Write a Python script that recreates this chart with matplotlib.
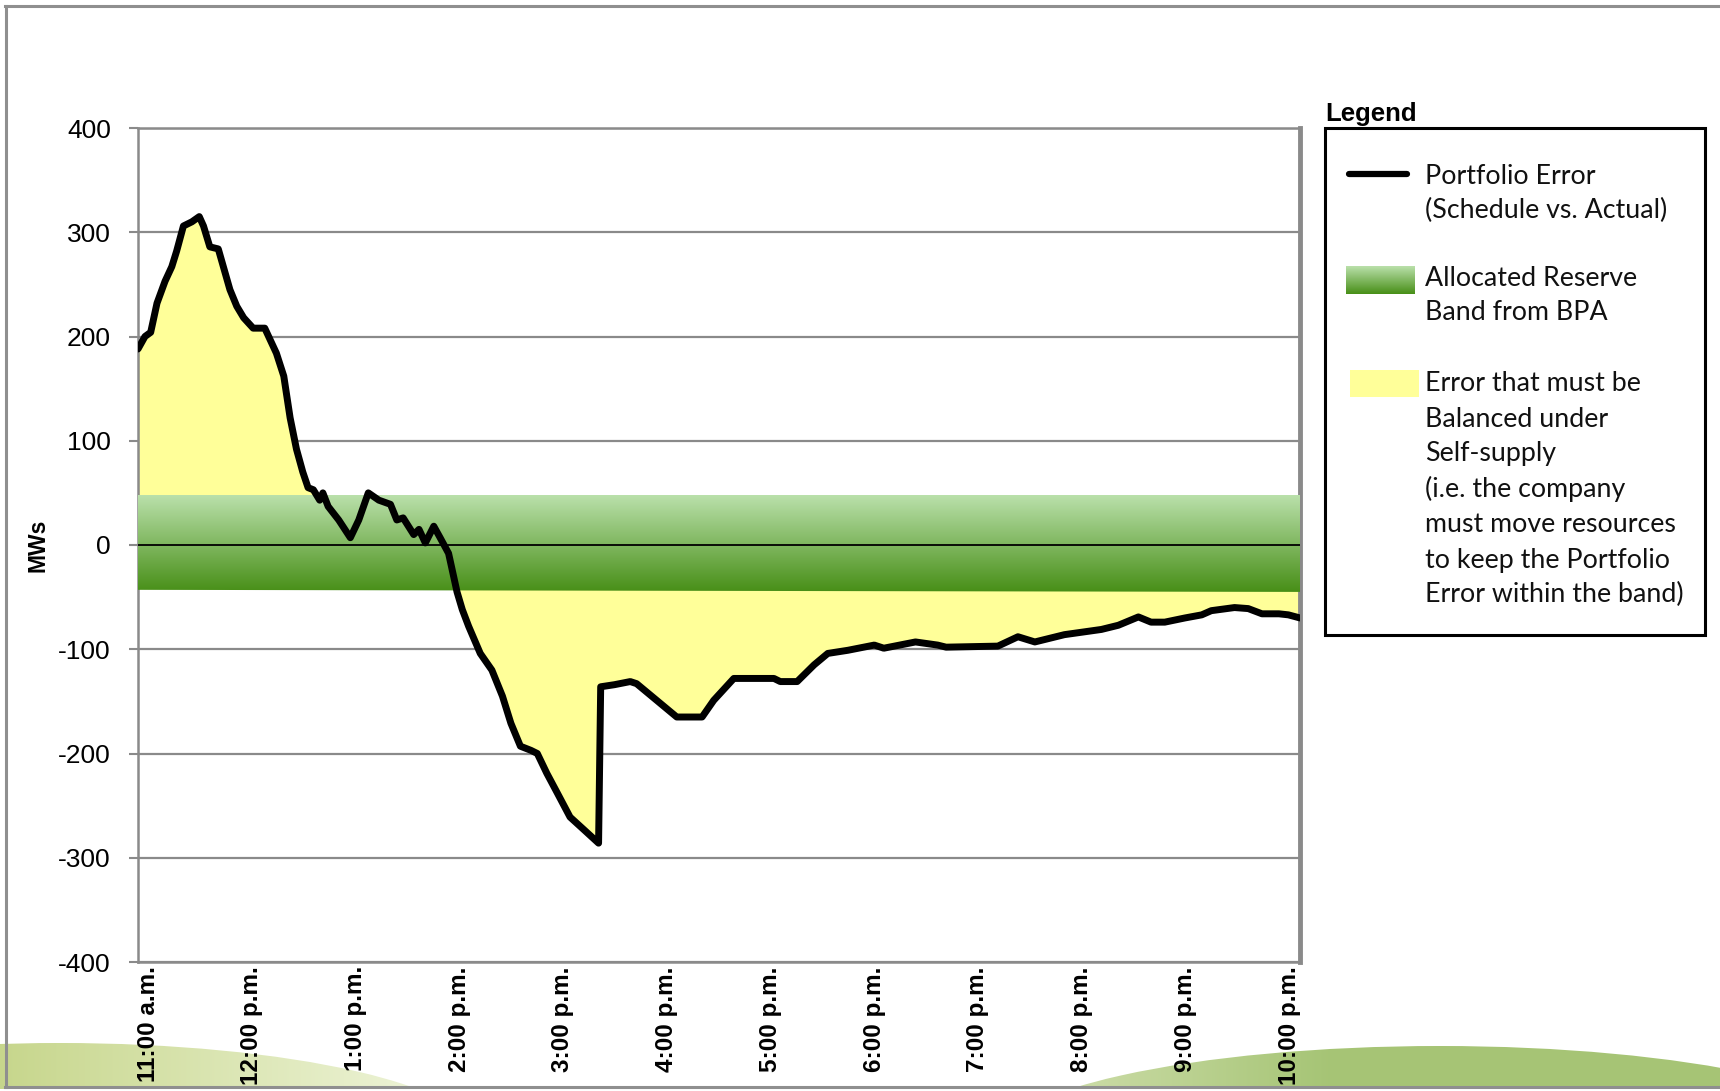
import numpy as np
import matplotlib
matplotlib.use('Agg')
import matplotlib.pyplot as plt
from matplotlib.patches import Rectangle, Ellipse, Polygon
from matplotlib.lines import Line2D

# ---------------- data ----------------
# hours after 11:00 a.m.
hours = [0.00, 0.066, 0.12, 0.18, 0.256, 0.32, 0.366, 0.43, 0.51, 0.58, 0.62, 0.68, 0.76,
         0.87, 0.935, 1.00, 1.09, 1.20, 1.31, 1.38, 1.44, 1.50, 1.56, 1.61, 1.66, 1.72, 1.75,
         1.80, 1.90, 2.01, 2.09, 2.18, 2.28, 2.39, 2.45, 2.51, 2.61, 2.66, 2.72, 2.80, 2.86,
         2.94, 3.02, 3.07, 3.13, 3.24, 3.35, 3.45, 3.53, 3.62, 3.72, 3.78, 3.87, 3.97, 4.09,
         4.22, 4.36, 4.38, 4.51, 4.66, 4.72, 4.91, 5.10, 5.34, 5.45, 5.64, 6.02, 6.08, 6.24,
         6.40, 6.53, 6.72, 6.97, 7.06, 7.16, 7.36, 7.57, 7.65, 8.14, 8.33, 8.49, 8.77, 9.12,
         9.28, 9.47, 9.59, 9.72, 9.91, 10.07, 10.16, 10.38, 10.51, 10.64, 10.80, 10.89, 11.0]
error_mw = [188, 200, 204, 232, 253, 267, 282, 306, 310, 315, 306, 286, 284,
            245, 229, 218, 208, 208, 184, 162, 122, 92, 70, 55, 53, 43, 50,
            37, 24, 7, 24, 50, 43, 39, 24, 26, 10, 15, 2, 18, 7,
            -8, -45, -62, -78, -104, -120, -145, -171, -193, -197, -200, -219, -238, -261,
            -273, -286, -136, -134, -131, -133, -149, -165, -165, -149, -128, -128, -131, -131,
            -115, -104, -101, -96, -99, -97, -93, -96, -98, -97, -88, -93, -86, -81,
            -77, -69, -74, -74, -70, -67, -63, -60, -61, -66, -66, -67, -70]
band_upper = 48
band_lower_start = -43
band_lower_end = -45
y_ticks = [400, 300, 200, 100, 0, -100, -200, -300, -400]
x_tick_labels = ['11:00 a.m.', '12:00 p.m.', '1:00 p.m.', '2:00 p.m.', '3:00 p.m.', '4:00 p.m.',
                 '5:00 p.m.', '6:00 p.m.', '7:00 p.m.', '8:00 p.m.', '9:00 p.m.', '10:00 p.m.']
legend_title = 'Legend'
legend_line_text = ['Portfolio Error', '(Schedule vs. Actual)']
legend_band_text = ['Allocated Reserve', 'Band from BPA']
legend_fill_text = ['Error that must be', 'Balanced under', 'Self-supply',
                    '(i.e. the company', 'must move resources', 'to keep the Portfolio',
                    'Error within the band)']

# ---------------- figure ----------------
W, H = 1720, 1091
fig = plt.figure(figsize=(W / 100, H / 100), dpi=100)
fig.patch.set_facecolor('white')

def fx(px):
    return px / W

def fy(py):
    return 1 - py / H

# background axes in pixel coordinates
bg = fig.add_axes([0, 0, 1, 1], zorder=-10)
bg.set_xlim(0, W)
bg.set_ylim(H, 0)
bg.axis('off')

def hgrad(c0, c1, n=256):
    t = np.linspace(0, 1, n)[None, :, None]
    return (np.array(c0)[None, None, :] * (1 - t) + np.array(c1)[None, None, :] * t)

def vgrad(c0, c1, n=256):
    t = np.linspace(0, 1, n)[:, None, None]
    return (np.array(c0)[None, None, :] * (1 - t) + np.array(c1)[None, None, :] * t)

# decorative hills
e1 = Ellipse((60, 1140), 840, 194, transform=bg.transData, facecolor='none', edgecolor='none')
bg.add_patch(e1)
im1 = bg.imshow(hgrad((0.78, 0.84, 0.55), (0.95, 0.97, 0.88)), extent=[0, 480, 1089, 1030],
                aspect='auto', interpolation='bilinear')
im1.set_clip_path(e1)
e2 = Ellipse((1440, 1146), 900, 200, transform=bg.transData, facecolor='none', edgecolor='none')
bg.add_patch(e2)
im2 = bg.imshow(hgrad((0.84, 0.89, 0.71), (0.65, 0.77, 0.46)), extent=[1000, 1330, 1089, 1030],
                aspect='auto', interpolation='bilinear')
im2.set_clip_path(e2)
r2 = Rectangle((1330, 1030), 390, 59, facecolor=(0.65, 0.77, 0.46), edgecolor='none')
bg.add_patch(r2)
r2.set_clip_path(e2)
bg.set_xlim(0, W)
bg.set_ylim(H, 0)

# frame
fcol = '#8f8f8f'
bg.add_line(Line2D([5, W], [6, 6], color=fcol, lw=2.2))
bg.add_line(Line2D([6, 6], [6, 1087], color=fcol, lw=2.2))
bg.add_line(Line2D([5, W], [1087, 1087], color=fcol, lw=2.2))

# ---------------- main chart ----------------
ax = fig.add_axes([fx(138), fy(962), fx(1300) - fx(138), fy(128) - fy(962)])
ax.set_xlim(0, 11)
ax.set_ylim(-400, 400)
ax.set_axisbelow(True)

ax.fill_between(hours, error_mw, 0, color='#ffff99', lw=0, zorder=2)
ax.plot([0, 0], [0, error_mw[0]], color='#1560bd', lw=1.5, zorder=2.5)

band_clip = Polygon([(0, band_upper), (11, band_upper), (11, band_lower_end), (0, band_lower_start)],
                    closed=True, transform=ax.transData, facecolor='none', edgecolor='none')
ax.add_patch(band_clip)
band = ax.imshow(vgrad((0.73, 0.88, 0.67), (0.28, 0.56, 0.09)),
                 extent=[0, 11, min(band_lower_start, band_lower_end), band_upper],
                 aspect='auto', interpolation='bilinear', zorder=3)
band.set_clip_path(band_clip)
ax.set_xlim(0, 11)
ax.set_ylim(-400, 400)

ax.axhline(0, color='black', lw=1.3, zorder=4)
ax.plot(hours, error_mw, color='black', lw=5, solid_joinstyle='round',
        solid_capstyle='round', zorder=5)

gcol = '#8a8a8a'
ax.set_yticks(y_ticks)
ax.set_yticklabels([str(v) for v in y_ticks], fontsize=19, family='Liberation Sans')
ax.grid(axis='y', color=gcol, lw=1.6)
ax.grid(axis='x', visible=False)
ax.tick_params(axis='y', length=6.5, width=1.5, color=gcol, pad=13)

xt = np.arange(len(x_tick_labels)) * 0.982 + 0.095
ax.set_xticks(xt)
ax.set_xticklabels(x_tick_labels, rotation=90, fontsize=17.5, fontweight='bold',
                   family='Liberation Sans')
ax.tick_params(axis='x', length=0, pad=3)

for s in ['top', 'bottom', 'left']:
    ax.spines[s].set_color(gcol)
    ax.spines[s].set_linewidth(1.8)
ax.spines['right'].set_color(gcol)
ax.spines['right'].set_linewidth(3.5)

fig.text(fx(38), fy(545), 'MWs', rotation=90, fontsize=16.5, fontweight='bold',
         family='Liberation Sans', ha='center', va='center')

# ---------------- legend ----------------
ov = fig.add_axes([0, 0, 1, 1], zorder=10)
ov.set_xlim(0, W)
ov.set_ylim(H, 0)
ov.axis('off')
ov.patch.set_alpha(0)

ov.text(1325, 121, legend_title, fontsize=18.5, fontweight='bold', family='Liberation Sans',
        ha='left', va='baseline')
ov.add_patch(Rectangle((1325, 128), 380, 507, fill=False, edgecolor='black', lw=2.2))
ov.add_line(Line2D([1349, 1407], [173.6, 173.6], color='black', lw=4.5, solid_capstyle='round'))
ov.imshow(vgrad((0.73, 0.88, 0.67), (0.28, 0.56, 0.09)), extent=[1346, 1415, 294, 266],
          aspect='auto', interpolation='bilinear')
ov.add_patch(Rectangle((1350, 370), 69, 27, facecolor='#ffff99', edgecolor='none'))
ov.set_xlim(0, W)
ov.set_ylim(H, 0)

line_y = [176.4, 210.4, 278.2, 312.1, 383.6, 419.3, 453.2, 489.0, 524.6, 560.4, 594.3]
all_lines = legend_line_text + legend_band_text + legend_fill_text
for txt, yy in zip(all_lines, line_y):
    ov.text(1425, yy, txt, fontsize=19.3, family='Lato', ha='left', va='center', color='#111111')

fig.savefig('out.png', dpi=100, facecolor='white')
